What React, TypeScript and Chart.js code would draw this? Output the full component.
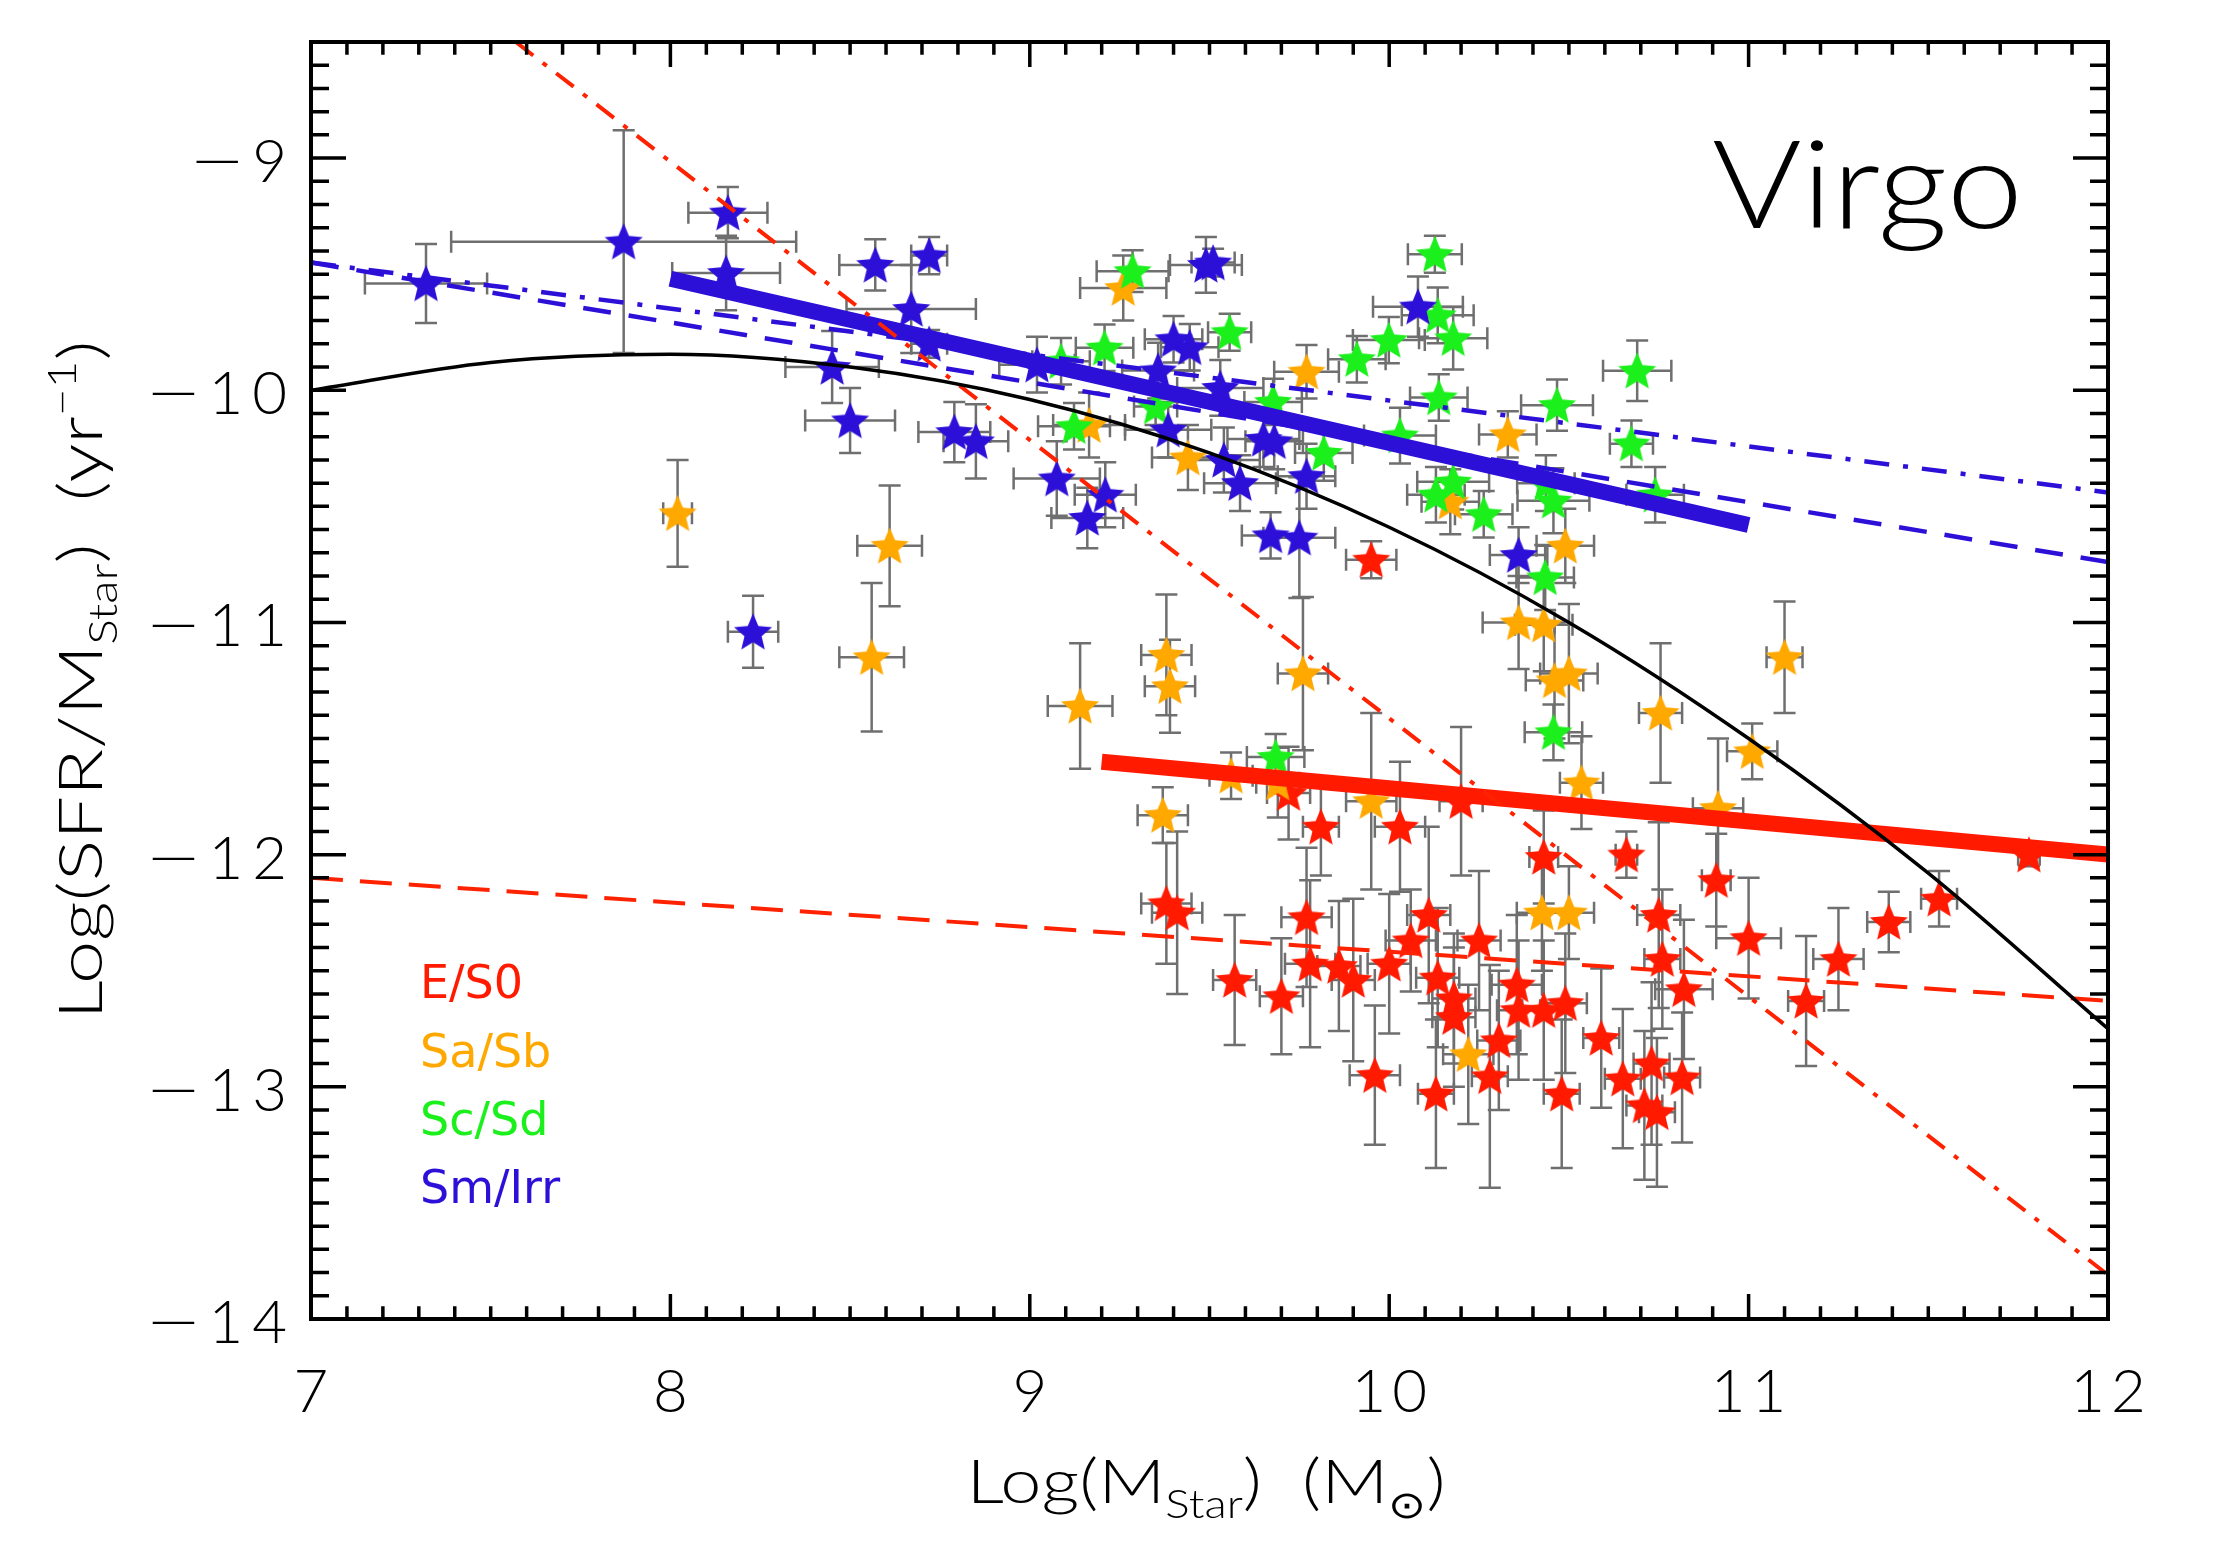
import React, { useEffect, useRef } from 'react';
import { Chart, registerables } from 'chart.js';

Chart.register(...registerables);

const W = 2219;
const H = 1559;

// Each row: [log M_star, log sSFR, error in log M, error in log sSFR]
const eS0: number[][] = [
  [9.95, -10.73, 0.07, 0.08], [9.72, -11.735, 0.06, 0.2], [9.81, -11.88, 0.05, 0.21], [10.03, -11.88, 0.07, 0.28],
  [10.2, -11.77, 0.06, 0.32], [10.43, -12.01, 0.04, 0.2], [10.66, -12.0, 0.03, 0.1], [10.91, -12.11, 0.04, 0.2],
  [9.38, -12.21, 0.07, 0.26], [9.41, -12.25, 0.07, 0.35], [9.77, -12.27, 0.07, 0.3], [10.11, -12.26, 0.06, 0.38],
  [10.75, -12.26, 0.06, 0.4], [11.0, -12.36, 0.09, 0.26], [11.25, -12.45, 0.07, 0.22], [10.06, -12.37, 0.07, 0.22],
  [10.25, -12.37, 0.06, 0.3], [9.78, -12.47, 0.07, 0.36], [9.86, -12.48, 0.06, 0.28], [9.9, -12.54, 0.06, 0.35],
  [10.0, -12.47, 0.06, 0.3], [9.57, -12.54, 0.06, 0.28], [9.7, -12.61, 0.06, 0.25], [10.135, -12.53, 0.06, 0.3],
  [10.355, -12.56, 0.07, 0.3], [10.76, -12.45, 0.05, 0.3], [10.82, -12.58, 0.08, 0.3], [11.16, -12.63, 0.05, 0.28],
  [10.18, -12.62, 0.06, 0.28], [10.18, -12.7, 0.06, 0.3], [10.36, -12.67, 0.06, 0.3], [10.43, -12.67, 0.06, 0.3],
  [10.49, -12.64, 0.06, 0.3], [10.305, -12.8, 0.06, 0.3], [10.59, -12.79, 0.05, 0.3], [9.96, -12.95, 0.07, 0.3],
  [10.13, -13.03, 0.05, 0.32], [10.28, -12.955, 0.05, 0.48], [10.48, -13.03, 0.05, 0.32], [10.65, -12.965, 0.05, 0.3],
  [10.73, -12.9, 0.05, 0.35], [10.815, -12.96, 0.05, 0.28], [10.71, -13.08, 0.05, 0.32], [10.745, -13.11, 0.05, 0.32],
  [11.78, -12.0, 0.03, 0.05], [11.53, -12.19, 0.05, 0.12], [11.39, -12.29, 0.06, 0.13],
];

const saSb: number[][] = [
  [8.02, -10.53, 0.04, 0.23], [8.61, -10.67, 0.09, 0.26], [8.56, -11.15, 0.09, 0.32], [9.26, -9.56, 0.12, 0.14],
  [9.44, -10.29, 0.1, 0.14], [9.165, -10.15, 0.1, 0.14], [9.77, -9.92, 0.09, 0.115], [10.33, -10.19, 0.08, 0.1],
  [10.17, -10.48, 0.08, 0.14], [10.49, -10.67, 0.08, 0.16], [10.36, -11.0, 0.1, 0.2], [10.43, -11.01, 0.08, 0.2],
  [10.46, -11.25, 0.08, 0.25], [10.5, -11.22, 0.08, 0.3], [10.755, -11.39, 0.06, 0.3], [11.1, -11.15, 0.05, 0.24],
  [11.01, -11.555, 0.07, 0.12], [9.38, -11.14, 0.07, 0.26], [9.39, -11.275, 0.07, 0.2], [9.14, -11.36, 0.09, 0.27],
  [9.76, -11.22, 0.07, 0.33], [10.535, -11.69, 0.06, 0.2], [9.56, -11.66, 0.06, 0.1], [9.37, -11.83, 0.07, 0.12],
  [9.69, -11.69, 0.06, 0.15], [9.95, -11.77, 0.07, 0.38], [10.915, -11.8, 0.07, 0.3], [10.425, -12.25, 0.07, 0.25],
  [10.5, -12.25, 0.07, 0.2], [10.22, -12.86, 0.07, 0.3],
];

const scSd: number[][] = [
  [9.286, -9.487, 0.1, 0.09], [10.127, -9.414, 0.075, 0.08], [10.135, -9.677, 0.1, 0.12], [10.178, -9.776, 0.095, 0.135],
  [9.999, -9.784, 0.1, 0.1], [9.91, -9.866, 0.08, 0.1], [9.556, -9.75, 0.06, 0.08], [9.208, -9.817, 0.08, 0.1],
  [10.69, -9.916, 0.095, 0.13], [10.467, -10.064, 0.1, 0.11], [10.138, -10.031, 0.08, 0.1], [10.674, -10.23, 0.06, 0.1],
  [9.123, -10.155, 0.1, 0.1], [9.087, -9.875, 0.08, 0.1], [9.677, -10.05, 0.08, 0.1], [9.818, -10.27, 0.08, 0.12],
  [10.03, -10.195, 0.1, 0.12], [10.13, -10.45, 0.08, 0.12], [10.178, -10.394, 0.1, 0.12], [10.263, -10.534, 0.08, 0.1],
  [10.436, -10.4, 0.08, 0.12], [10.457, -10.476, 0.1, 0.14], [10.74, -10.45, 0.08, 0.12], [10.434, -10.806, 0.08, 0.14],
  [10.457, -11.473, 0.08, 0.12], [9.684, -11.58, 0.08, 0.1], [9.35, -10.07, 0.06, 0.08],
];

const smIrr: number[][] = [
  [7.32, -9.54, 0.17, 0.17], [7.87, -9.36, 0.48, 0.48], [8.16, -9.235, 0.11, 0.11], [8.155, -9.495, 0.15, 0.16],
  [8.57, -9.46, 0.1, 0.11], [8.72, -9.42, 0.05, 0.08], [8.67, -9.65, 0.18, 0.19], [8.72, -9.8, 0.05, 0.06],
  [8.45, -9.9, 0.13, 0.155], [8.5, -10.13, 0.125, 0.14], [8.79, -10.18, 0.1, 0.13], [8.85, -10.22, 0.09, 0.16],
  [9.075, -10.38, 0.12, 0.16], [9.16, -10.55, 0.1, 0.13], [9.21, -10.45, 0.085, 0.14], [8.23, -11.04, 0.07, 0.155],
  [9.49, -9.46, 0.1, 0.12], [9.51, -9.45, 0.06, 0.06], [10.08, -9.64, 0.125, 0.13], [9.4, -9.78, 0.08, 0.1],
  [9.445, -9.815, 0.08, 0.1], [9.357, -9.915, 0.1, 0.12], [9.02, -9.89, 0.105, 0.12], [9.53, -9.99, 0.12, 0.12],
  [9.385, -10.17, 0.12, 0.12], [9.65, -10.21, 0.1, 0.12], [9.68, -10.22, 0.08, 0.12], [9.54, -10.3, 0.1, 0.14],
  [9.585, -10.4, 0.1, 0.12], [9.77, -10.37, 0.08, 0.14], [9.67, -10.625, 0.08, 0.1], [9.75, -10.635, 0.1, 0.26],
  [10.36, -10.71, 0.08, 0.12],
];

// Curve and fit lines
const curveX = [7, 7.5, 8, 8.5, 9, 9.5, 10, 10.5, 11, 11.5, 12];
const curveY = [-10.0, -9.88, -9.845, -9.9, -10.04, -10.27, -10.59, -11.0, -11.5, -12.08, -12.75];
const redFitX = [9.2, 12];
const redFitY = [-11.6, -12.0];
const blueFitX = [8.0, 11.0];
const blueFitY = [-9.52, -10.58];
const redDashX = [7, 12];
const redDashY = [-12.1, -12.63];
const redDashDotX = [7.57, 12];
const redDashDotY = [-8.5, -13.81];
const blueDashX = [7, 12];
const blueDashY = [-9.45, -10.74];
const blueDashDotX = [7, 12];
const blueDashDotY = [-9.45, -10.44];

const xTickValues = [7, 8, 9, 10, 11, 12];
const xTickLabels = ['7', '8', '9', '10', '11', '12'];
const yTickValues = [-14, -13, -12, -11, -10, -9];
const yTickLabels = ['\u221214', '\u221213', '\u221212', '\u221211', '\u221210', '\u22129'];

const legendLabels = ['E/S0', 'Sa/Sb', 'Sc/Sd', 'Sm/Irr'];
const classColors = ['#ff1a00', '#ffa800', '#1cf01c', '#2c10d8'];
const clusterName = 'Virgo';

const FONT = 'Lato';

function makeStar(color: string, R: number): HTMLCanvasElement {
  const c = document.createElement('canvas');
  const size = Math.ceil(2 * R + 2);
  c.width = size;
  c.height = size;
  const g = c.getContext('2d')!;
  const cx = size / 2;
  const cy = size / 2 + R * 0.08;
  g.beginPath();
  for (let i = 0; i < 10; i++) {
    const r = i % 2 === 0 ? R : R * 0.45;
    const a = -Math.PI / 2 + (i * Math.PI) / 5;
    const px = cx + r * Math.cos(a);
    const py = cy + r * Math.sin(a);
    if (i === 0) g.moveTo(px, py);
    else g.lineTo(px, py);
  }
  g.closePath();
  g.fillStyle = color;
  g.fill();
  return c;
}

type Seg = { t: string; k?: 'sub' | 'sup' };

// Draw text made of normal / sub / superscript runs, centred on x and stretched to a width
function drawRich(ctx: CanvasRenderingContext2D, segs: Seg[], x: number, y: number, size: number, weight: string, width: number) {
  const small = size * 0.62;
  const fontFor = (k?: string) => `${weight} ${k ? small : size}px ${FONT}`;
  let total = 0;
  for (const s of segs) {
    ctx.font = fontFor(s.k);
    total += ctx.measureText(s.t).width;
  }
  const sx = width / total;
  ctx.save();
  ctx.translate(x - width / 2, y);
  ctx.scale(sx, 1);
  ctx.textAlign = 'left';
  ctx.textBaseline = 'alphabetic';
  let cx = 0;
  for (const s of segs) {
    ctx.font = fontFor(s.k);
    const dy = s.k === 'sub' ? size * 0.24 : s.k === 'sup' ? -size * 0.42 : 0;
    ctx.fillText(s.t, cx, dy);
    cx += ctx.measureText(s.t).width;
  }
  ctx.restore();
}

function spacedText(ctx: any, text: string, x: number, y: number, align: 'right' | 'center', spacing: number) {
  ctx.letterSpacing = `${spacing}px`;
  ctx.textAlign = 'left';
  const w = ctx.measureText(text).width - spacing;
  const x0 = align === 'right' ? x - w : x - w / 2;
  ctx.fillText(text, x0, y);
  ctx.letterSpacing = '0px';
  return x0;
}

// y tick label: digits in the thin font, with a long (stretched) minus in front
function yLabel(ctx: any, text: string, right: number, y: number) {
  const minus = text.charAt(0);
  const digits = text.slice(1);
  const x0 = spacedText(ctx, digits, right, y, 'right', 9);
  const mw = ctx.measureText(minus).width;
  const target = 58;
  ctx.save();
  ctx.translate(x0 - 6 - target, y);
  ctx.scale(target / mw, 1);
  ctx.textAlign = 'left';
  ctx.fillText(minus, 0, 0);
  ctx.restore();
}

const errorBarPlugin = {
  id: 'errorBars',
  beforeDatasetsDraw(chart: any) {
    const { ctx, chartArea, scales } = chart;
    const xs = scales.x;
    const ys = scales.y;
    ctx.save();
    ctx.beginPath();
    ctx.rect(chartArea.left, chartArea.top, chartArea.right - chartArea.left, chartArea.bottom - chartArea.top);
    ctx.clip();
    ctx.strokeStyle = '#6f6f6f';
    ctx.lineWidth = 2.5;
    const cap = 11;
    chart.data.datasets.forEach((ds: any) => {
      if (!ds.withErrors) return;
      ds.data.forEach((p: any) => {
        const px = xs.getPixelForValue(p.x);
        const py = ys.getPixelForValue(p.y);
        const xl = xs.getPixelForValue(p.x - p.ex);
        const xr = xs.getPixelForValue(p.x + p.ex);
        const yt = ys.getPixelForValue(p.y + p.ey);
        const yb = ys.getPixelForValue(p.y - p.ey);
        ctx.beginPath();
        ctx.moveTo(xl, py); ctx.lineTo(xr, py);
        ctx.moveTo(xl, py - cap); ctx.lineTo(xl, py + cap);
        ctx.moveTo(xr, py - cap); ctx.lineTo(xr, py + cap);
        ctx.moveTo(px, yt); ctx.lineTo(px, yb);
        ctx.moveTo(px - cap, yt); ctx.lineTo(px + cap, yt);
        ctx.moveTo(px - cap, yb); ctx.lineTo(px + cap, yb);
        ctx.stroke();
      });
    });
    ctx.restore();
  },
};

const framePlugin = {
  id: 'frameTicks',
  afterDraw(chart: any) {
    const { ctx, chartArea, scales } = chart;
    const xs = scales.x;
    const ys = scales.y;
    const { left, right, top, bottom } = chartArea;
    ctx.save();
    ctx.strokeStyle = '#000';
    ctx.lineWidth = 3.5;
    ctx.lineCap = 'butt';
    ctx.beginPath();
    for (let i = 0; i <= 50; i++) {
      const v = 7 + i * 0.1;
      const px = xs.getPixelForValue(v);
      const len = i % 10 === 0 ? 25 : 12.7;
      ctx.moveTo(px, bottom); ctx.lineTo(px, bottom - len);
      ctx.moveTo(px, top); ctx.lineTo(px, top + len);
    }
    for (let i = 0; i <= 55; i++) {
      const v = -14 + i * 0.1;
      const py = ys.getPixelForValue(v);
      const len = i % 10 === 0 ? 35 : 18;
      ctx.moveTo(left, py); ctx.lineTo(left + len, py);
      ctx.moveTo(right, py); ctx.lineTo(right - len, py);
    }
    ctx.stroke();
    ctx.lineWidth = 4;
    ctx.strokeRect(left, top, right - left, bottom - top);

    // Tick labels, placed through the scales
    ctx.fillStyle = '#000';
    ctx.textBaseline = 'alphabetic';
    ctx.font = `300 60px ${FONT}`;
    xTickValues.forEach((v, i) => {
      spacedText(ctx, xTickLabels[i], xs.getPixelForValue(v), 1412, 'center', 6);
    });
    yTickValues.forEach((v, i) => {
      yLabel(ctx, yTickLabels[i], 287, ys.getPixelForValue(v) + 24);
    });

    // Cluster name
    ctx.save();
    ctx.font = `300 122px ${FONT}`;
    const vw = ctx.measureText(clusterName).width;
    ctx.translate(1712, 228);
    ctx.scale(311 / vw, 1);
    ctx.textAlign = 'left';
    ctx.fillText(clusterName, 0, 0);
    ctx.restore();

    // Legend labels
    const baselines = [998, 1067, 1135, 1203];
    ctx.font = `46px "DejaVu Sans"`;
    ctx.textAlign = 'left';
    legendLabels.forEach((t, i) => {
      ctx.fillStyle = classColors[i];
      ctx.fillText(t, 420, baselines[i]);
    });

    // Axis titles
    ctx.fillStyle = '#000';
    drawRich(ctx, [
      { t: 'Log(M' }, { t: 'Star', k: 'sub' }, { t: ')  (M' }, { t: '\u2299', k: 'sub' }, { t: ')' },
    ], 1206, 1503, 62, '300', 479);
    ctx.save();
    ctx.translate(102, 680);
    ctx.rotate(-Math.PI / 2);
    drawRich(ctx, [
      { t: 'Log(SFR/M' }, { t: 'Star', k: 'sub' }, { t: ')  (yr' }, { t: '\u22121', k: 'sup' }, { t: ')' },
    ], 0, 0, 62, '300', 679);
    ctx.restore();
    ctx.restore();
  },
};

function toPts(rows: number[][]) {
  return rows.map((r) => ({ x: r[0], y: r[1], ex: r[2], ey: r[3] }));
}
function toLine(xs: number[], ys: number[]) {
  return xs.map((x, i) => ({ x, y: ys[i] }));
}

export default function App() {
  const ref = useRef<HTMLCanvasElement | null>(null);

  useEffect(() => {
    if (!ref.current) return;
    const R = 20;
    const starImgs = classColors.map((c) => makeStar(c, R));
    const classes = [eS0, saSb, scSd, smIrr];
    const starSets = classes.map((rows, i) => ({
      label: legendLabels[i],
      data: toPts(rows),
      withErrors: true,
      pointStyle: starImgs[i],
      pointRadius: R,
      showLine: false,
      order: 4 - i,
    }));
    const lineBase = { showLine: true, pointRadius: 0, fill: false, order: 0 };
    const chart = new Chart(ref.current, {
      type: 'scatter',
      data: {
        datasets: [
          ...starSets,
          { ...lineBase, label: 'curve', data: toLine(curveX, curveY), borderColor: '#000', borderWidth: 3.5, cubicInterpolationMode: 'monotone' },
          { ...lineBase, label: 'redDashDot', data: toLine(redDashDotX, redDashDotY), borderColor: '#ff2200', borderWidth: 4, borderDash: [22, 12, 5, 12] },
          { ...lineBase, label: 'redDash', data: toLine(redDashX, redDashY), borderColor: '#ff2200', borderWidth: 4, borderDash: [32, 17] },
          { ...lineBase, label: 'blueDash', data: toLine(blueDashX, blueDashY), borderColor: '#2c10d8', borderWidth: 4.5, borderDash: [28, 18] },
          { ...lineBase, label: 'blueDashDot', data: toLine(blueDashDotX, blueDashDotY), borderColor: '#2c10d8', borderWidth: 4.5, borderDash: [25, 14, 5, 14] },
          { ...lineBase, label: 'redFit', data: toLine(redFitX, redFitY), borderColor: '#ff1a00', borderWidth: 16, borderCapStyle: 'butt' },
          { ...lineBase, label: 'blueFit', data: toLine(blueFitX, blueFitY), borderColor: '#2c10d8', borderWidth: 16, borderCapStyle: 'butt' },
        ] as any,
      },
      options: {
        animation: false,
        responsive: false,
        events: [],
        layout: { padding: { left: 0, right: W - 2108, top: 42, bottom: 0 } },
        plugins: { legend: { display: false }, tooltip: { enabled: false } },
        scales: {
          x: {
            type: 'linear',
            min: 7,
            max: 12,
            grid: { display: false, drawTicks: false },
            border: { display: false },
            afterBuildTicks: (s: any) => { s.ticks = xTickValues.map((v) => ({ value: v })); },
            afterFit: (s: any) => {
              s.height = H - 1319;
              s.paddingLeft = 0; s.paddingRight = 0; s.paddingTop = 0; s.paddingBottom = 0;
            },
            ticks: { display: false },
          },
          y: {
            type: 'linear',
            min: -14,
            max: -8.5,
            grid: { display: false, drawTicks: false },
            border: { display: false },
            afterBuildTicks: (s: any) => { s.ticks = yTickValues.map((v) => ({ value: v })); },
            afterFit: (s: any) => {
              s.width = 311;
              s.paddingLeft = 0; s.paddingRight = 0; s.paddingTop = 0; s.paddingBottom = 0;
            },
            ticks: { display: false },
          },
        },
      },
      plugins: [errorBarPlugin, framePlugin],
    } as any);
    return () => chart.destroy();
  }, []);

  return (
    <div style={{ position: 'fixed', left: 0, top: 0, width: W, height: H, background: '#fff' }}>
      <canvas ref={ref} width={W} height={H} style={{ display: 'block', width: W, height: H }} />
    </div>
  );
}
